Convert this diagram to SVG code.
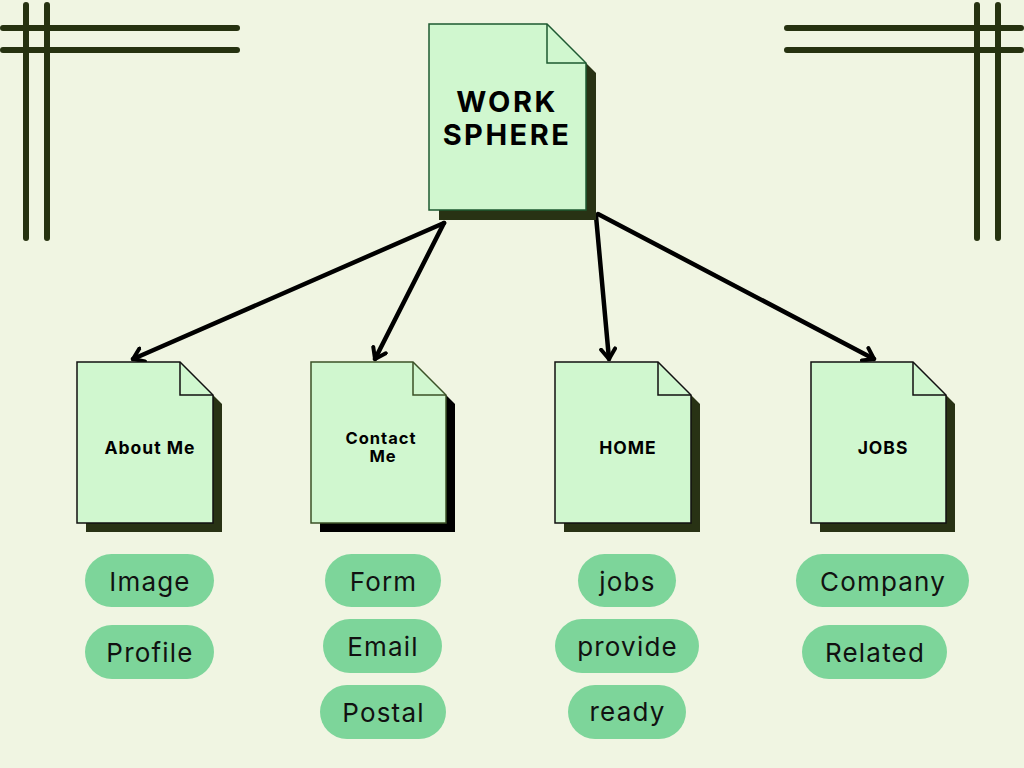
<svg xmlns="http://www.w3.org/2000/svg" width="1024" height="768" viewBox="0 0 1024 768">
<defs>
<style>
.bg{fill:#f0f5e2}
.deco{stroke:#263210;stroke-width:6;stroke-linecap:round;fill:none}
.front{fill:#d0f7cf;stroke:#111;stroke-width:1.5;stroke-linejoin:miter}
.fold{fill:none;stroke:#111;stroke-width:1.5}
.shadow{fill:#283214}
.title{font-family:Inter,"Noto Sans",sans-serif;font-weight:700;fill:#000;text-anchor:middle}
.sub{font-size:17.5px;letter-spacing:1px}
.pill{fill:#7dd59a}
.ptext{font-family:Inter,"Noto Sans",sans-serif;font-size:26px;fill:#111;text-anchor:middle;letter-spacing:1.2px}
.conn{stroke:#000;stroke-width:4.5;fill:none;stroke-linecap:round}
</style>
<marker id="arr" viewBox="-12 -9 14 18" markerWidth="14" markerHeight="18" refX="0" refY="0" orient="auto" markerUnits="userSpaceOnUse">
<path d="M -10 -7 L 0 0 L -10 7" fill="none" stroke="#000" stroke-width="4" stroke-linecap="round" stroke-linejoin="round"/>
</marker>
</defs>
<rect class="bg" x="0" y="0" width="1024" height="768"/>
<g id="decor-left">
<line class="deco" x1="26" y1="5" x2="26" y2="238"/>
<line class="deco" x1="47" y1="5" x2="47" y2="238"/>
<line class="deco" x1="3" y1="28" x2="237" y2="28"/>
<line class="deco" x1="3" y1="50" x2="237" y2="50"/>
</g>
<g id="decor-right">
<line class="deco" x1="977" y1="5" x2="977" y2="238"/>
<line class="deco" x1="998" y1="5" x2="998" y2="238"/>
<line class="deco" x1="787" y1="28" x2="1021" y2="28"/>
<line class="deco" x1="787" y1="50" x2="1021" y2="50"/>
</g>
<g id="connectors">
<line class="conn" x1="444" y1="223" x2="133" y2="359" marker-end="url(#arr)"/>
<line class="conn" x1="444" y1="223" x2="375" y2="359" marker-end="url(#arr)"/>
<line class="conn" x1="596" y1="216" x2="609" y2="359" marker-end="url(#arr)"/>
<line class="conn" x1="598" y1="214" x2="874" y2="359" marker-end="url(#arr)"/>
</g>
<g id="node-worksphere" transform="translate(429,24)">
<path class="shadow" d="M10 10 H128 L167 49 V196 H10 Z"/>
<path class="front" style="stroke:#1d5a31" d="M0 0 H118 L157 39 V186 H0 Z"/>
<path class="fold" style="stroke:#1d5a31" d="M118 0 V39 H157"/>
<text class="title" x="78" y="88" font-size="29" letter-spacing="2.5">WORK</text>
<text class="title" x="78" y="121" font-size="29" letter-spacing="2.5">SPHERE</text>
</g>
<g id="node-about" transform="translate(77,362)">
<path class="shadow" d="M9 9 H112 L145 42 V170 H9 Z"/>
<path class="front" d="M0 0 H103 L136 33 V161 H0 Z"/>
<path class="fold" d="M103 0 V33 H136"/>
<text class="title sub" x="73" y="92">About Me</text>
</g>
<g id="node-contact" transform="translate(311,362)">
<path style="fill:#000" d="M9 9 H111 L144 42 V170 H9 Z"/>
<path class="front" style="stroke:#3b5227" d="M0 0 H102 L135 33 V161 H0 Z"/>
<path class="fold" style="stroke:#3b5227" d="M102 0 V33 H135"/>
<text class="title sub" x="70" y="82" style="font-size:16.5px">Contact</text>
<text class="title sub" x="72" y="100" style="font-size:16.5px">Me</text>
</g>
<g id="node-home" transform="translate(555,362)">
<path class="shadow" d="M9 9 H112 L145 42 V170 H9 Z"/>
<path class="front" d="M0 0 H103 L136 33 V161 H0 Z"/>
<path class="fold" d="M103 0 V33 H136"/>
<text class="title sub" x="73" y="92">HOME</text>
</g>
<g id="node-jobs" transform="translate(811,362)">
<path class="shadow" d="M9 9 H111 L144 42 V170 H9 Z"/>
<path class="front" d="M0 0 H102 L135 33 V161 H0 Z"/>
<path class="fold" d="M102 0 V33 H135"/>
<text class="title sub" x="72" y="92">JOBS</text>
</g>
<g id="pill-image"><rect class="pill" x="85" y="554" width="129" height="53" rx="26.5"/><text class="ptext" x="150" y="591">Image</text></g>
<g id="pill-profile"><rect class="pill" x="85" y="625" width="129" height="54" rx="27"/><text class="ptext" x="150" y="662">Profile</text></g>
<g id="pill-form"><rect class="pill" x="325" y="554" width="116" height="53" rx="26.5"/><text class="ptext" x="383.5" y="591">Form</text></g>
<g id="pill-email"><rect class="pill" x="323" y="619" width="119" height="54" rx="27"/><text class="ptext" x="383" y="656">Email</text></g>
<g id="pill-postal"><rect class="pill" x="320" y="685" width="126" height="54" rx="27"/><text class="ptext" x="383.5" y="722">Postal</text></g>
<g id="pill-jobs"><rect class="pill" x="578" y="554" width="98" height="53" rx="26.5"/><text class="ptext" x="627.5" y="591">jobs</text></g>
<g id="pill-provide"><rect class="pill" x="555" y="619" width="144" height="54" rx="27"/><text class="ptext" x="627.5" y="656">provide</text></g>
<g id="pill-ready"><rect class="pill" x="568" y="685" width="118" height="54" rx="27"/><text class="ptext" x="627.5" y="721">ready</text></g>
<g id="pill-company"><rect class="pill" x="796" y="554" width="173" height="53" rx="26.5"/><text class="ptext" x="883" y="591">Company</text></g>
<g id="pill-related"><rect class="pill" x="802" y="625" width="145" height="54" rx="27"/><text class="ptext" x="875" y="662">Related</text></g>
</svg>
